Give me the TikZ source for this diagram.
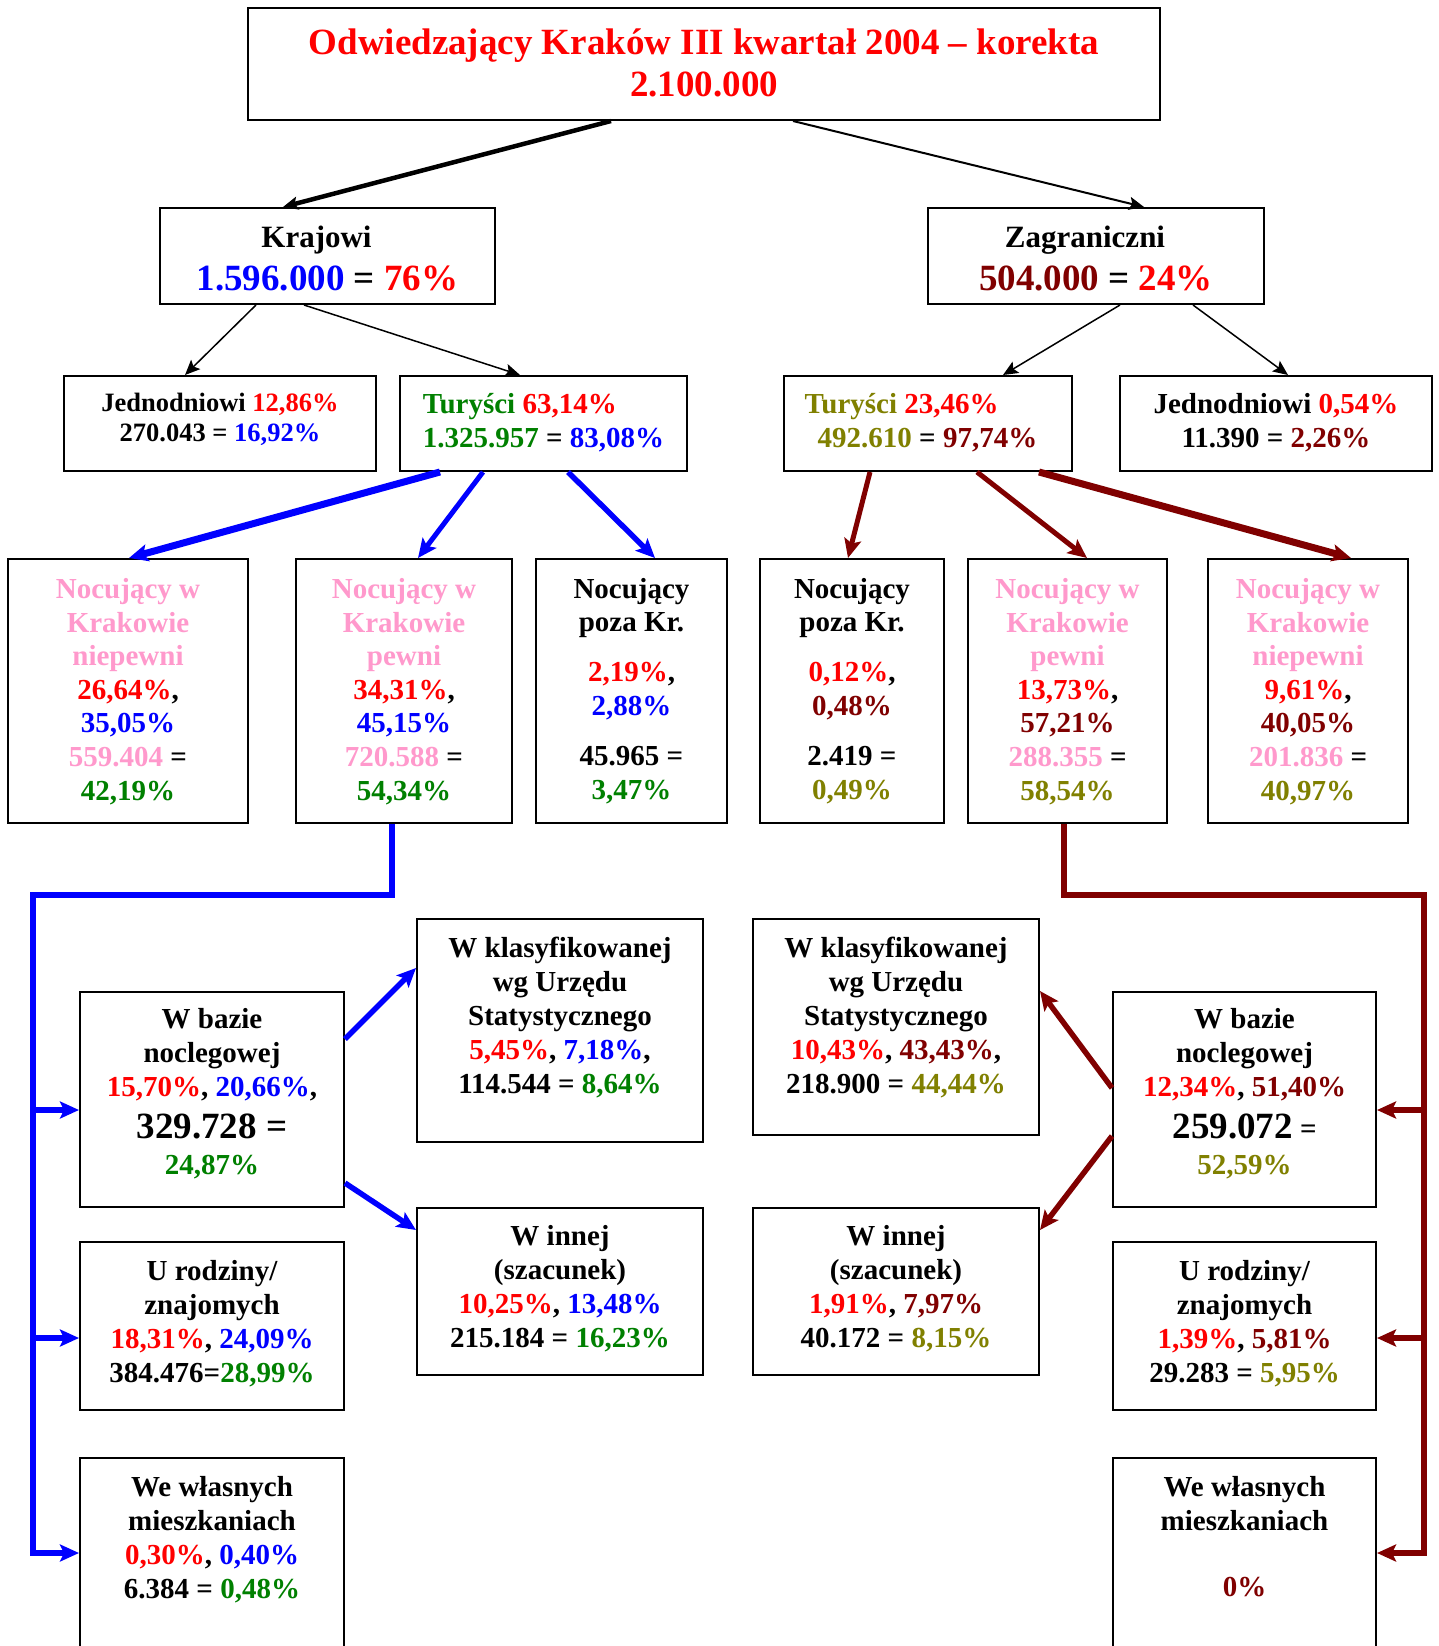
\documentclass[tikz,border=0pt]{standalone}
\usepackage{fontspec}
\setmainfont{Liberation Serif}
\usetikzlibrary{arrows.meta,calc}
\definecolor{cred}{HTML}{FF0000}
\definecolor{cblue}{HTML}{0000FF}
\definecolor{cgreen}{HTML}{008000}
\definecolor{cdark}{HTML}{800000}
\definecolor{colive}{HTML}{808000}
\definecolor{cpink}{HTML}{FF99CC}
\newcommand{\cR}[1]{\textcolor{cred}{#1}}
\newcommand{\cB}[1]{\textcolor{cblue}{#1}}
\newcommand{\cG}[1]{\textcolor{cgreen}{#1}}
\newcommand{\cD}[1]{\textcolor{cdark}{#1}}
\newcommand{\cO}[1]{\textcolor{colive}{#1}}
\newcommand{\cP}[1]{\textcolor{cpink}{#1}}
\newcommand{\fsz}[2]{\fontsize{#1}{#2}\selectfont}
\newcommand{\mkbox}[5]{\node[box,minimum width={#4pt-#2pt},minimum height={#5pt-#3pt}] (#1) at ({(#2+#4)/2},{(#3+#5)/2}) {};}
\begin{document}
\begin{tikzpicture}[x=1pt,y=-1pt,
  box/.style={draw=black,line width=2pt,rectangle,inner sep=0pt},
  txt/.style={align=center,inner sep=0pt},
  ftop/.style={font={\bfseries\fsz{29}{34}}},
  frow/.style={font={\bfseries\fsz{29}{33.6}}},
  fbot/.style={font={\bfseries\fsz{29}{34}}},
  tipk/.style={-{Stealth[length=15pt,width=13pt,inset=3pt]}},
  tipc/.style={-{Stealth[length=19pt,width=17pt,inset=4pt]}},
  bline/.style={draw=cblue,line join=miter},
  rline/.style={draw=cdark,line join=miter}]
\useasboundingbox (0,0) rectangle (1439,1646);
\fill[white] (0,0) rectangle (1439,1646);

% boxes
\mkbox{title}{248}{8}{1160}{120}
\mkbox{kraj}{160}{208}{495}{304}
\mkbox{zagr}{928}{208}{1264}{304}
\mkbox{jedL}{64}{376}{376}{471}
\mkbox{turL}{400}{376}{687}{471}
\mkbox{turR}{784}{376}{1072}{471}
\mkbox{jedR}{1120}{376}{1432}{471}
\mkbox{nnL}{8}{559}{248}{823}
\mkbox{npL}{296}{559}{512}{823}
\mkbox{pzL}{536}{559}{727}{823}
\mkbox{pzR}{760}{559}{944}{823}
\mkbox{npR}{968}{559}{1167}{823}
\mkbox{nnR}{1208}{559}{1408}{823}
\mkbox{wbL}{80}{992}{344}{1207}
\mkbox{urL}{80}{1242}{344}{1410}
\mkbox{wwL}{80}{1458}{344}{1660}
\mkbox{wkL}{417}{919}{703}{1142}
\mkbox{wiL}{417}{1208}{703}{1375}
\mkbox{wkR}{753}{919}{1039}{1135}
\mkbox{wiR}{753}{1208}{1039}{1375}
\mkbox{wbR}{1113}{992}{1376}{1207}
\mkbox{urR}{1113}{1242}{1376}{1410}
\mkbox{wwR}{1113}{1458}{1376}{1660}

% texts
\node[txt,font={\bfseries\fsz{37}{42}},text=cred] (title-t) at (704,66.8) {\strut Odwiedzający Kraków III kwartał 2004 – korekta\\2.100.000\strut};
\node[txt,font={\bfseries\fsz{37}{43}}] (kraj-t) at (327.5,260) {\fsz{31}{43}\strut Krajowi\hspace*{22pt}\\\cB{1.596.000} = \cR{76\%}\strut};
\node[txt,font={\bfseries\fsz{37}{43}}] (zagr-t) at (1096,260) {\fsz{31}{43}\strut Zagraniczni\hspace*{22pt}\\\cD{504.000} = \cR{24\%}\strut};
\node[txt,font={\bfseries\fsz{26.5}{30}}] (jedL-t) at (220,420.7) {\strut Jednodniowi \cR{12,86\%}\\270.043 = \cB{16,92\%}\strut};
\node[txt,ftop,align=left] (turL-t) at (543.5,424) {\strut\cG{Turyści} \cR{63,14\%}\\\cG{1.325.957} = \cB{83,08\%}\strut};
\node[txt,ftop,align=left] (turR-t) at (921,424) {\strut\cO{Turyści} \cR{23,46\%}\\\hspace*{13pt}\cO{492.610} = \cD{97,74\%}\strut};
\node[txt,ftop] (jedR-t) at (1276,424) {\strut Jednodniowi \cR{0,54\%}\\11.390 = \cD{2,26\%}\strut};

\node[txt,frow] (nnL-t) at (128,692.5) {\strut\cP{Nocujący w}\\\cP{Krakowie}\\\cP{niepewni}\\\cR{26,64\%},\\\cB{35,05\%}\\\cP{559.404} =\\\cG{42,19\%}\strut};
\node[txt,frow] (npL-t) at (404,692.5) {\strut\cP{Nocujący w}\\\cP{Krakowie}\\\cP{pewni}\\\cR{34,31\%},\\\cB{45,15\%}\\\cP{720.588} =\\\cG{54,34\%}\strut};
\node[txt,frow] (pzL-t) at (631.5,692) {\strut Nocujący\\poza Kr.\\[16pt]\cR{2,19\%},\\\cB{2,88\%}\\[17pt]45.965 =\\\cG{3,47\%}\strut};
\node[txt,frow] (pzR-t) at (852,692) {\strut Nocujący\\poza Kr.\\[16pt]\cR{0,12\%},\\\cD{0,48\%}\\[17pt]2.419 =\\\cO{0,49\%}\strut};
\node[txt,frow] (npR-t) at (1067.5,692.5) {\strut\cP{Nocujący w}\\\cP{Krakowie}\\\cP{pewni}\\\cR{13,73\%},\\\cD{57,21\%}\\\cP{288.355} =\\\cO{58,54\%}\strut};
\node[txt,frow] (nnR-t) at (1308,692.5) {\strut\cP{Nocujący w}\\\cP{Krakowie}\\\cP{niepewni}\\\cR{9,61\%},\\\cD{40,05\%}\\\cP{201.836} =\\\cO{40,97\%}\strut};

\node[txt,fbot] (wbL-t) at (212,1095) {\strut W bazie\\noclegowej\\\cR{15,70\%}, \cB{20,66\%},\\[7.6pt]{\fsz{37}{34}329.728 =}\\[2.4pt]\cG{24,87\%}\strut};
\node[txt,fbot] (urL-t) at (212,1324.3) {\strut U rodziny/\\znajomych\\\cR{18,31\%}, \cB{24,09\%}\\384.476=\cG{28,99\%}\strut};
\node[txt,fbot] (wwL-t) at (212,1540.3) {\strut We własnych\\mieszkaniach\\\cR{0,30\%}, \cB{0,40\%}\\6.384 = \cG{0,48\%}\strut};
\node[txt,fbot] (wkL-t) at (560,1018.3) {\strut W klasyfikowanej\\wg Urzędu\\Statystycznego\\\cR{5,45\%}, \cB{7,18\%},\\114.544 = \cG{8,64\%}\strut};
\node[txt,fbot] (wiL-t) at (560,1289.3) {\strut W innej\\(szacunek)\\\cR{10,25\%}, \cB{13,48\%}\\215.184 = \cG{16,23\%}\strut};
\node[txt,fbot] (wkR-t) at (896,1018.3) {\strut W klasyfikowanej\\wg Urzędu\\Statystycznego\\\cR{10,43\%}, \cD{43,43\%},\\218.900 = \cO{44,44\%}\strut};
\node[txt,fbot] (wiR-t) at (896,1289.3) {\strut W innej\\(szacunek)\\\cR{1,91\%}, \cD{7,97\%}\\40.172 = \cO{8,15\%}\strut};
\node[txt,fbot] (wbR-t) at (1244.5,1095) {\strut W bazie\\noclegowej\\\cR{12,34\%}, \cD{51,40\%}\\[7.6pt]{\fsz{37}{34}259.072} =\\[2.4pt]\cO{52,59\%}\strut};
\node[txt,fbot] (urR-t) at (1244.5,1324.3) {\strut U rodziny/\\znajomych\\\cR{1,39\%}, \cD{5,81\%}\\29.283 = \cO{5,95\%}\strut};
\node[txt,fbot] (wwR-t) at (1244.5,1539.8) {\strut We własnych\\mieszkaniach\\[32pt]\cD{0\%}\strut};

% top connectors
\draw[tipk,line width=4.5pt] ([xshift=-93pt]title.south) -- ([xshift=-44.5pt]kraj.north);
\draw[tipk,line width=2pt] ([xshift=89pt]title.south) -- ([xshift=48pt]zagr.north);
\draw[tipk,line width=1.5pt] ([xshift=-71.5pt]kraj.south) -- ([xshift=-35pt]jedL.north);
\draw[tipk,line width=1.5pt] ([xshift=-23.5pt]kraj.south) -- ([xshift=-23.5pt]turL.north);
\draw[tipk,line width=1.5pt] ([xshift=24pt]zagr.south) -- ([xshift=75pt]turR.north);
\draw[tipk,line width=1.5pt] ([xshift=97pt]zagr.south) -- ([xshift=12pt]jedR.north);

% blue from turL
\draw[bline,tipc,line width=7pt] ([xshift=-103.5pt]turL.south) -- ([xshift=1pt]nnL.north);
\draw[bline,tipc,line width=5pt] ([xshift=-60.5pt]turL.south) -- ([xshift=14pt]npL.north);
\draw[bline,tipc,line width=5.5pt] ([xshift=24.5pt]turL.south) -- ([xshift=23.5pt]pzL.north);
% dark red from turR
\draw[rline,tipc,line width=5pt] ([xshift=-58pt]turR.south) -- ([xshift=-4pt]pzR.north);
\draw[rline,tipc,line width=5pt] ([xshift=49pt]turR.south) -- ([xshift=19.5pt]npR.north);
\draw[rline,tipc,line width=7pt] ([xshift=111pt]turR.south) -- ([xshift=43pt]nnR.north);

% blue tree
\coordinate (bj) at (392,895);
\coordinate (bl) at (33,895);
\coordinate (bb) at (33,1553);
\coordinate (wbLin) at ([yshift=-10.5pt]wbL.west);
\coordinate (urLin) at ([yshift=-12pt]urL.west);
\draw[bline,tipc,line width=5.5pt] (npL.south -| bj) -- (bj) -- (bl) -- (bb) -- (wwL.west |- bb);
\draw[bline,tipc,line width=5.5pt] (bl |- wbLin) -- (wbLin);
\draw[bline,tipc,line width=5.5pt] (bl |- urLin) -- (urLin);
\draw[bline,tipc,line width=5.5pt] ([yshift=60.5pt]wbL.east) -- ([yshift=62.5pt]wkL.west);
\draw[bline,tipc,line width=5.5pt] ([yshift=-83.5pt]wbL.east) -- ([yshift=61.5pt]wiL.west);

% dark red tree
\coordinate (rj) at (1064,895);
\coordinate (rl) at (1424,895);
\coordinate (rb) at (1424,1553);
\coordinate (wbRin) at ([yshift=-10.5pt]wbR.east);
\coordinate (urRin) at ([yshift=-12pt]urR.east);
\draw[rline,tipc,line width=5.5pt] (npR.south -| rj) -- (rj) -- (rl) -- (rb) -- (wwR.east |- rb);
\draw[rline,tipc,line width=5.5pt] (rl |- wbRin) -- (wbRin);
\draw[rline,tipc,line width=5.5pt] (rl |- urRin) -- (urRin);
\draw[rline,tipc,line width=5.5pt] ([yshift=11.5pt]wbR.west) -- ([yshift=36pt]wkR.east);
\draw[rline,tipc,line width=5.5pt] ([yshift=-36.5pt]wbR.west) -- ([yshift=61.5pt]wiR.east);
\end{tikzpicture}
\end{document}
